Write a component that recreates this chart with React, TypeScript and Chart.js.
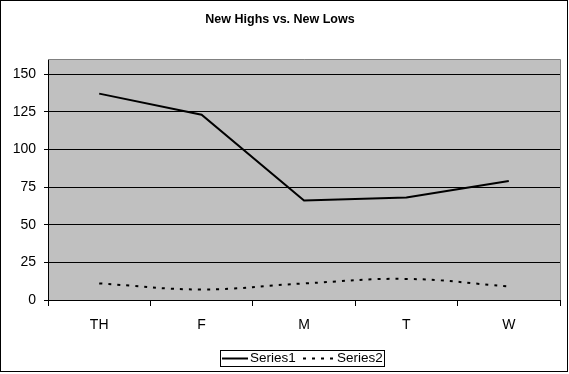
import React, { useEffect, useRef } from 'react';
import { Chart, registerables } from 'chart.js';

Chart.register(...registerables);

const TITLE = 'New Highs vs. New Lows';
const categories = ['TH', 'F', 'M', 'T', 'W'];
const series1 = [137, 123, 66, 68, 79];
const series2 = [11, 7, 11, 14, 9];
const seriesNames = ['Series1', 'Series2'];
const yTicks = [0, 25, 50, 75, 100, 125, 150];
const Y_MAX = 160;

const FONT = "'Liberation Sans', Arial, sans-serif";

const framePlugin = {
  id: 'frameAndLegend',
  beforeDraw(chart: any) {
    const { ctx, chartArea: a } = chart;
    ctx.save();
    ctx.fillStyle = '#ffffff';
    ctx.fillRect(0, 0, chart.width, chart.height);
    ctx.fillStyle = '#C0C0C0';
    ctx.fillRect(a.left, a.top, a.right - a.left, a.bottom - a.top);
    ctx.restore();
  },
  beforeDatasetsDraw(chart: any) {
    const { ctx, chartArea: a } = chart;
    ctx.save();
    ctx.strokeStyle = '#808080';
    ctx.lineWidth = 1;
    ctx.beginPath();
    ctx.moveTo(a.left, Math.floor(a.top) + 0.5);
    ctx.lineTo(Math.round(a.right) + 0.5, Math.floor(a.top) + 0.5);
    ctx.lineTo(Math.round(a.right) + 0.5, a.bottom);
    ctx.stroke();
    ctx.restore();
  },
  afterDraw(chart: any) {
    const { ctx } = chart;
    ctx.save();
    // outer frame
    ctx.strokeStyle = '#000';
    ctx.lineWidth = 1;
    ctx.strokeRect(0.5, 0.5, 567, 371);
    // legend box
    ctx.strokeRect(220.5, 350.5, 164, 16);
    const ds = chart.data.datasets;
    const y = 358.5;
    const entries = [
      { x0: 222, x1: 248, tx: 250 },
      { x0: 303, x1: 334, tx: 337 },
    ];
    ctx.font = `13.5px ${FONT}`;
    ctx.textBaseline = 'middle';
    ctx.fillStyle = '#000';
    entries.forEach((e, i) => {
      const d = ds[i];
      ctx.beginPath();
      ctx.lineWidth = d.borderWidth;
      ctx.strokeStyle = d.borderColor;
      ctx.setLineDash(d.borderDash || []);
      ctx.moveTo(e.x0, y);
      ctx.lineTo(e.x1, y);
      ctx.stroke();
      ctx.setLineDash([]);
      ctx.fillText(d.label, e.tx, y);
    });
    ctx.restore();
  },
};

export default function App() {
  const ref = useRef<HTMLCanvasElement | null>(null);
  useEffect(() => {
    if (!ref.current) return;
    const chart = new Chart(ref.current, {
      type: 'line',
      data: {
        labels: categories,
        datasets: [
          {
            label: seriesNames[0],
            data: series1,
            borderColor: '#000',
            borderWidth: 2,
            pointRadius: 0,
            tension: 0,
            fill: false,
          },
          {
            label: seriesNames[1],
            data: series2,
            borderColor: '#000',
            borderWidth: 2,
            borderDash: [3, 6],
            pointRadius: 0,
            tension: 0.4,
            fill: false,
          },
        ],
      },
      options: {
        responsive: false,
        animation: false,
        devicePixelRatio: 1,
        layout: { padding: { left: 0, right: 9, top: 0, bottom: 0 } },
        plugins: {
          legend: { display: false },
          tooltip: { enabled: false },
          title: {
            display: true,
            text: TITLE,
            color: '#000',
            font: { family: FONT, size: 12.5, weight: 'bold' },
            padding: { top: 12, bottom: 32 },
          },
        },
        scales: {
          x: {
            type: 'category',
            offset: true,
            grid: {
              offset: true,
              drawOnChartArea: false,
              drawTicks: true,
              tickLength: 6,
              color: '#000',
              lineWidth: 1,
            },
            border: { display: true, color: '#000', width: 1 },
            ticks: {
              color: '#000',
              font: { family: FONT, size: 14 },
              padding: 11,
              maxRotation: 0,
            },
            afterFit: (s: any) => {
              s.height = 74;
            },
          },
          y: {
            type: 'linear',
            min: 0,
            max: Y_MAX,
            afterBuildTicks: (s: any) => {
              s.ticks = yTicks.map((v) => ({ value: v }));
            },
            grid: {
              color: '#000',
              lineWidth: 1,
              drawTicks: true,
              tickLength: 4,
            },
            border: { display: true, color: '#000', width: 1 },
            ticks: {
              color: '#000',
              font: { family: FONT, size: 14 },
              padding: 8,
            },
            afterFit: (s: any) => {
              s.width = 48;
            },
          },
        },
      },
      plugins: [framePlugin],
    });
    return () => chart.destroy();
  }, []);
  return (
    <div style={{ position: 'fixed', left: 0, top: 0, width: 569, height: 374, background: '#fff' }}>
      <canvas ref={ref} width={569} height={374} style={{ display: 'block', width: 569, height: 374 }} />
    </div>
  );
}
